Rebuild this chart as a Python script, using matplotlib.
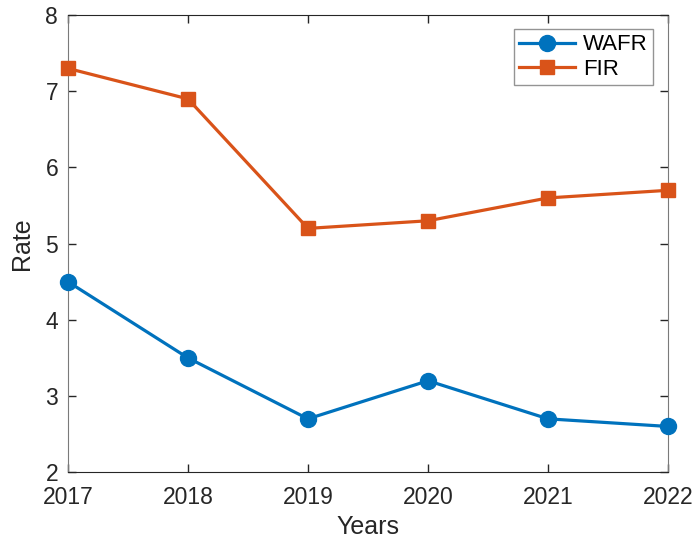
import matplotlib.pyplot as plt

years = [2017, 2018, 2019, 2020, 2021, 2022]
wafr = [4.5, 3.5, 2.7, 3.2, 2.7, 2.6]
fir = [7.3, 6.9, 5.2, 5.3, 5.6, 5.7]

plt.rcParams['font.family'] = ['Liberation Sans', 'DejaVu Sans']

fig = plt.figure(figsize=(6.93, 5.39), dpi=100)
ax = fig.add_axes([0.098, 0.124, 0.866, 0.848])

ax.plot(years, wafr, color='#0072BD', lw=2.3, marker='o', ms=11.5,
        label='WAFR', clip_on=False, zorder=3)
ax.plot(years, fir, color='#D95319', lw=2.3, marker='s', ms=9.5,
        label='FIR', clip_on=False, zorder=3)

ax.set_xlim(2017, 2022)
ax.set_ylim(2, 8)
ax.set_xticks(years)
ax.set_yticks(range(2, 9))
ax.tick_params(direction='in', length=6, width=1, top=True, right=True,
               labelsize=16.5, colors='#262626')
ax.tick_params(axis='x', pad=10)
ax.tick_params(axis='y', pad=7)
for side in ['top', 'bottom']:
    ax.spines[side].set_color('#262626')
for side in ['left', 'right']:
    ax.spines[side].set_color('#7a7a7a')

ax.set_xlabel('Years', fontsize=18, color='#262626', labelpad=4)
ax.set_ylabel('Rate', fontsize=18, color='#262626', labelpad=8)

leg = ax.legend(loc='upper right', fontsize=16, frameon=True, fancybox=False,
                edgecolor='#7a7a7a', handlelength=2.5, borderpad=0.25,
                labelspacing=0.15, handletextpad=0.35, borderaxespad=0,
                bbox_to_anchor=(0.975, 0.97))
leg.get_frame().set_linewidth(1)

fig.savefig('out.png', dpi=100)
